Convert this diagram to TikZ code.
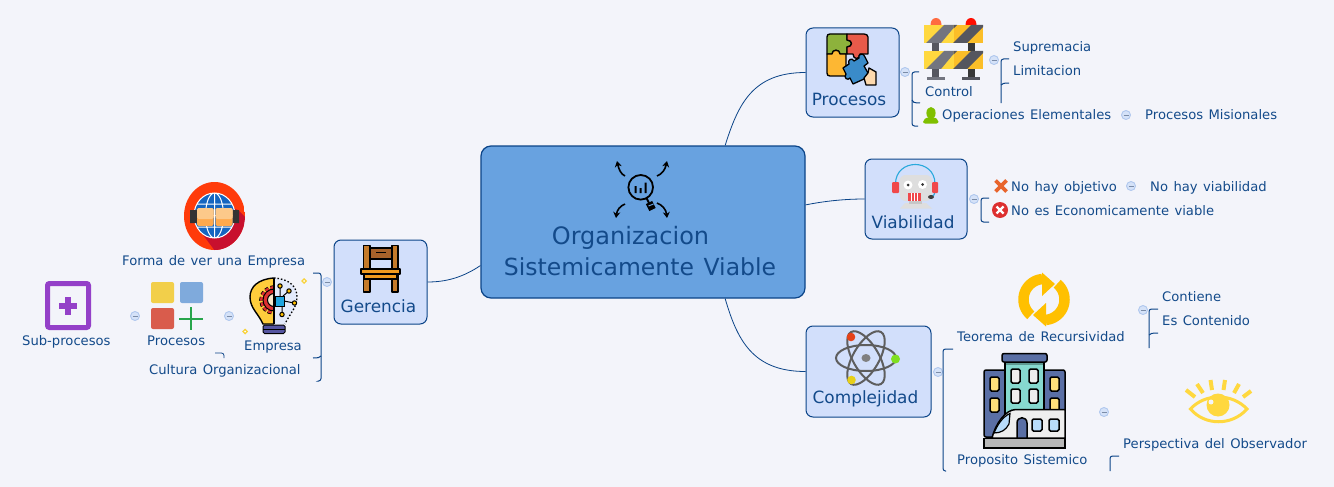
\documentclass[tikz,border=0pt]{standalone}
\usepackage{fontspec}
\setmainfont[WordSpace=1.3]{DejaVu Sans}
\usetikzlibrary{arrows.meta}
\definecolor{bg}{HTML}{F3F4FA}
\definecolor{txt}{HTML}{134A8A}
\definecolor{edge}{HTML}{0B4488}
\definecolor{centerfill}{HTML}{68A2E0}
\definecolor{topicfill}{HTML}{D2DFFB}
\definecolor{colfill}{HTML}{D5E2F8}
\definecolor{colline}{HTML}{B0C8EE}
\definecolor{ikred}{HTML}{DD3030}
\definecolor{ikyel}{HTML}{FFD83F}
\definecolor{ikamb}{HTML}{FFC000}
\definecolor{ikblue}{HTML}{5A6FA5}
\definecolor{skin}{HTML}{FCC98A}
\definecolor{skindark}{HTML}{FFA94D}
\definecolor{pzgreen}{HTML}{8DB23C}
\definecolor{pzred}{HTML}{E85A4A}
\definecolor{pzorange}{HTML}{FDB733}
\definecolor{pzblue}{HTML}{3A8BC9}
\definecolor{bamber}{HTML}{FBBE28}
\definecolor{bgrayA}{HTML}{73757F}
\definecolor{bgrayB}{HTML}{55565F}
\definecolor{muff}{HTML}{F0484A}
\definecolor{arcblue}{HTML}{29A9DC}
\definecolor{head}{HTML}{DEDEDE}
\definecolor{teal}{HTML}{86D9CF}
\definecolor{winy}{HTML}{FFE07A}
\definecolor{winb}{HTML}{B8DCFB}
\definecolor{winw}{HTML}{EEEEEE}
\definecolor{orbit}{HTML}{5E5E5E}
\definecolor{gred}{HTML}{FF3B0A}
\definecolor{gshadow}{HTML}{C8102E}
\definecolor{gblue}{HTML}{1565C0}
\definecolor{chpost}{HTML}{C47A2A}
\definecolor{chback}{HTML}{A8622A}
\definecolor{chseat}{HTML}{F09A1E}
\definecolor{sqy}{HTML}{F2CF4A}
\definecolor{sqb}{HTML}{7FAADC}
\definecolor{sqr}{HTML}{D95C4C}
\definecolor{sqg}{HTML}{27A54B}
\definecolor{purp}{HTML}{9440C8}
\definecolor{person}{HTML}{7FBF00}
\definecolor{xorange}{HTML}{E8642C}
\definecolor{bulby}{HTML}{FFCD3C}
\definecolor{bulbw}{HTML}{E3EAFB}
\definecolor{chip}{HTML}{1FA5DF}
\definecolor{cream}{HTML}{F7E8CC}
\definecolor{basep}{HTML}{5555A0}
\definecolor{spark}{HTML}{F8D23C}
\tikzset{
 lbl/.style={font=\fontsize{13.15}{15}\selectfont,text=txt,anchor=west,inner sep=0pt,text height=9.5pt,text depth=2.5pt},
 ttl/.style={font=\fontsize{16.9}{20}\selectfont,text=txt,anchor=center,inner sep=0pt},
 ctl/.style={text=txt,anchor=center,inner sep=0pt},
 topic/.style={draw=edge,line width=1pt,fill=topicfill,rounded corners=7pt,inner sep=0pt},
 central/.style={draw=edge,line width=1.2pt,fill=centerfill,rounded corners=10pt,inner sep=0pt},
 link/.style={draw=edge,line width=.8pt},
 br/.style={draw=edge,line width=1pt,rounded corners=2.5pt},
 col/.style={circle,draw=colline,fill=colfill,line width=.9pt,minimum size=9pt,inner sep=0pt,
   path picture={\draw[colline!70!black,line width=.7pt] ([xshift=-2.5pt]path picture bounding box.center)--([xshift=2.5pt]path picture bounding box.center);}},
 ol/.style={draw=black,line width=1.3pt,line join=round},
 win/.style={draw=black,line width=1.5pt,rounded corners=1.5pt},
}
\begin{document}
\begin{tikzpicture}[x=1pt,y=-1pt]
\useasboundingbox (0,0) rectangle (1334,487);
\fill[bg] (0,0) rectangle (1334,487);

% main nodes
\node[central,minimum width=324pt,minimum height=152pt] (center) at (643,222) {};
\node[topic,minimum width=93pt,minimum height=89pt] (procesos) at (852.5,72.5) {};
\node[topic,minimum width=102pt,minimum height=80pt] (viabilidad) at (916,199) {};
\node[topic,minimum width=125pt,minimum height=91pt] (complejidad) at (868.5,371.5) {};
\node[topic,minimum width=93pt,minimum height=84pt] (gerencia) at (380.5,282) {};

% connectors
\draw[link] (center.43.2) .. controls (738,105) and (752,72.5) .. (procesos.west);
\draw[link] (center.6) .. controls (825,201) and (845,199) .. (viabilidad.west);
\draw[link] (center.-43.4) .. controls (737,339) and (752,371.5) .. (complejidad.west);
\draw[link] (center.195.5) .. controls (462,278) and (445,282) .. (gerencia.east);

% titles
\node[ctl,font=\fontsize{24}{28}\selectfont] (c1) at (630.5,237.5) {Organizacion};
\node[ctl,font=\fontsize{23.5}{28}\selectfont] (c2) at (640,266.5) {Sistemicamente Viable};
\node[ttl] (t1) at (849,99) {Procesos};
\node[ttl] (t2) at (913,222) {Viabilidad};
\node[ttl] (t3) at (865.5,399) {Complejidad};
\node[ttl] (t4) at (378.5,306) {Gerencia};

% labels
\node[lbl] (l1) at (1013,48.5) {Supremacia};
\node[lbl] (l2) at (1013,72.5) {Limitacion};
\node[lbl] (l3) at (925,92.5) {Control};
\node[lbl] (l4) at (942,116.5) {Operaciones Elementales};
\node[lbl] (l5) at (1145,116.5) {Procesos Misionales};
\node[lbl] (l6) at (1011,187.5) {No hay objetivo};
\node[lbl] (l7) at (1150,187.5) {No hay viabilidad};
\node[lbl] (l8) at (1011,211.5) {No es Economicamente viable};
\node[lbl] (l9) at (1162,297.5) {Contiene};
\node[lbl] (l10) at (1162,321.5) {Es Contenido};
\node[lbl] (l11) at (957,337.5) {Teorema de Recursividad};
\node[lbl] (l12) at (957,460.5) {Proposito Sistemico};
\node[lbl] (l13) at (1123,444.5) {Perspectiva del Observador};
\node[lbl] (l14) at (122,261.5) {Forma de ver una Empresa};
\node[lbl] (l15) at (147,341.5) {Procesos};
\node[lbl] (l16) at (244,346.5) {Empresa};
\node[lbl] (l17) at (149,370.5) {Cultura Organizacional};
\node[lbl] (l18) at (22,341.5) {Sub-procesos};

% collapse markers
\node[col] (k1) at (905,72) {};
\node[col] (k2) at (994,60) {};
\node[col] (k3) at (1126,115) {};
\node[col] (k4) at (974,199) {};
\node[col] (k5) at (1131,186) {};
\node[col] (k6) at (938,372) {};
\node[col] (k7) at (1143,310) {};
\node[col] (k8) at (1104,412) {};
\node[col] (k9) at (327,282) {};
\node[col] (k10) at (229,316) {};
\node[col] (k11) at (135,316) {};

% brackets
\coordinate (b1a) at (919,72); \coordinate (b1b) at (920,103); \coordinate (b1c) at (918,126);
\draw[br] (b1a) -- (912,72) -- (912,126) -- (b1c);
\draw[br,rounded corners=0pt] (912,100) .. controls (912,102) and (914,103) .. (b1b);
\coordinate (b2a) at (1009,59); \coordinate (b2b) at (1009,83); \coordinate (b2c) at (1001,103);
\draw[br] (b2a) -- (1001,59) -- (b2c);
\draw[br,rounded corners=0pt] (1001,85) .. controls (1002,83.5) and (1004,83) .. (b2b);
\coordinate (b3a) at (989,198); \coordinate (b3b) at (989,222);
\draw[br] (b3a) -- (981,198) -- (981,222) -- (b3b);
\coordinate (b4a) at (953,349); \coordinate (b4b) at (946,471);
\draw[br] (b4a) -- (943,349) -- (943,471) -- (b4b);
\coordinate (b5a) at (1158,309); \coordinate (b5b) at (1158,333); \coordinate (b5c) at (1149,348);
\draw[br] (b5a) -- (1149,309) -- (b5c);
\draw[br,rounded corners=0pt] (1149,335) .. controls (1150,333.5) and (1152,333) .. (b5b);
\coordinate (b6a) at (1119,456); \coordinate (b6b) at (1110,471);
\draw[br] (b6a) -- (1110,456) -- (b6b);
\coordinate (b7a) at (313,273); \coordinate (b7b) at (313,358); \coordinate (b7c) at (319,381);
\draw[br] (b7a) -- (321,273) -- (321,381) -- (b7c);
\draw[br,rounded corners=0pt] (321,356) .. controls (320,357.5) and (318,358) .. (b7b);
\coordinate (b8a) at (215,353); \coordinate (b8b) at (224,358);
\draw[br,line width=.8pt] (b8a) -- (224,353) -- (b8b);

% ---- central icon
\draw[black,line width=1.8pt] (640.7,187.3) circle[radius=12.3];
\fill[black] (634.5,186) rectangle (636.5,193) (639.5,188) rectangle (641.5,193) (644.5,182.5) rectangle (646.5,193);
\draw[black,line width=2pt] (646.5,198) -- (649,203);
\draw[black,line width=7pt] (649,202.5) -- (652.5,209.5);
\draw[centerfill,line width=1pt] (648.5,206) -- (653.5,204);
\draw[centerfill,line width=1pt] (650.5,211.5) -- (656,209);
\draw[black,line width=1.6pt,-{Stealth[length=6pt,width=7pt]}] (625,176) .. controls (621,174) and (619,170) .. (617,161);
\draw[black,line width=1.6pt,-{Stealth[length=6pt,width=7pt]}] (657,176) .. controls (662,174) and (665,170) .. (667,161);
\draw[black,line width=1.6pt,-{Stealth[length=6pt,width=7pt]}] (625,204) .. controls (620,206) and (617,210) .. (616,218);
\draw[black,line width=1.6pt,-{Stealth[length=6pt,width=7pt]}] (657,203) .. controls (662,205) and (666,209) .. (667,218);

% ---- puzzle
\filldraw[ol,fill=pzgreen] (827,37) .. controls (827,35) and (828,34) .. (830,34) -- (847,34) -- (847,40) .. controls (853,40) and (853,47) .. (847,47) -- (847,54) -- (840,54) .. controls (840,49) and (832,49) .. (832,54) -- (827,54) -- cycle;
\filldraw[ol,fill=pzred] (847,34) -- (864,34) .. controls (866,34) and (868,35) .. (868,37) -- (868,54) -- (860,54) .. controls (860,60) and (853,60) .. (853,54) -- (847,54) -- (847,47) .. controls (853,47) and (853,40) .. (847,40) -- cycle;
\filldraw[ol,fill=pzorange] (827,54) -- (832,54) .. controls (832,49) and (840,49) .. (840,54) -- (846,54) -- (846,76) -- (830,76) .. controls (828,76) and (827,75) .. (827,73) -- cycle;
\filldraw[ol,fill=pzblue] (843,68) -- (849,64) .. controls (847,60) and (852,57) .. (854,61) -- (859,58) .. controls (857,54) and (864,52) .. (865,57) -- (868,63) -- (864,66) -- (868,73) -- (864,79) -- (853,84) -- (850,78) .. controls (848,81) and (843,78) .. (846,74) -- cycle;
\filldraw[ol,fill=skin!70!white] (864,78) -- (868,73) -- (869,68) -- (876,72) -- (876,85) -- (866,85) -- cycle;

% ---- barricade
\fill[bgrayB] (932,43) rectangle (939,78);
\fill[black!78] (968,43) rectangle (975,78);
\fill[bgrayA] (927,77) rectangle (945,80);
\fill[bgrayB] (962,77) rectangle (980,80);
\fill[red!55!orange!75!white] (930.5,25) .. controls (930.5,20.5) and (933,18) .. (936,18) .. controls (939,18) and (941.5,20.5) .. (941.5,25) -- cycle;
\fill[red!90!orange] (965.5,25) .. controls (965.5,20.5) and (968,18) .. (971,18) .. controls (974,18) and (976.5,20.5) .. (976.5,25) -- cycle;
\foreach \yy in {25,51}{
 \begin{scope}
  \clip (924,\yy) rectangle (983,\yy+18);
  \fill[ikyel] (924,\yy) rectangle (953.5,\yy+18);
  \fill[bamber] (953.5,\yy) rectangle (983,\yy+18);
  \fill[bgrayA] (926,\yy+18) -- (944,\yy) -- (953.5,\yy) -- (953.5,\yy+3) -- (941,\yy+18) -- cycle;
  \fill[bgrayB] (953.5,\yy) -- (957,\yy) -- (953.5,\yy+3.5) -- cycle;
  \fill[bgrayB] (953,\yy+18) -- (971,\yy) -- (984,\yy) -- (984,\yy+1) -- (967,\yy+18) -- cycle;
 \end{scope}
}

% ---- person
\fill[person] (931,113) ellipse[x radius=4.6,y radius=6];
\fill[person,rounded corners=2pt] (923,123.5) -- (923,120) -- (928,117) -- (934,117) -- (938.5,120) -- (938.5,123.5) -- cycle;

% ---- robot
\draw[arcblue,line width=1.1pt] (895.5,184) .. controls (895.5,158) and (935,158) .. (935,184);
\draw[arcblue,line width=1.1pt] (935,190) .. controls (935,195) and (933,197) .. (930,197);
\fill[head] (900,208.5) -- (905,203) -- (926,203) -- (932,208.5) -- cycle;
\fill[black!22] (909,200) rectangle (922,204);
\fill[head,rounded corners=6pt] (899.5,175) rectangle (932,201);
\fill[muff,rounded corners=1pt] (892,182) rectangle (899,193);
\fill[muff,rounded corners=1pt] (932,182) rectangle (938,193);
\fill[white] (908,185) circle[radius=4.5] (922.5,184.5) circle[radius=4.5];
\fill[black!80] (908,185) circle[radius=1.5] (922.5,184.5) circle[radius=1.5];
\fill[muff] (908,193) rectangle (921,201);
\foreach \xx in {911,914,917}{\fill[white] (\xx,193) rectangle (\xx+1,201);}
\fill[black!75] (931,197) ellipse[x radius=3,y radius=2];

% ---- x marks
\draw[xorange,line width=3.8pt] (995.5,180.5) -- (1006.5,191.5) (1006.5,180.5) -- (995.5,191.5);
\fill[ikred] (1000,210) circle[radius=8];
\draw[white,line width=2.4pt] (996.5,206.5) -- (1003.5,213.5) (1003.5,206.5) -- (996.5,213.5);

% ---- recycle
\draw[ikamb,line width=10.5pt] plot[domain=130:265,samples=30] ({1044+20.5*cos(\x)},{299.5+20.5*sin(\x)});
\fill[ikamb] (1042,272.5) -- (1055,284) -- (1042,296) -- cycle;
\draw[ikamb,line width=10.5pt] plot[domain=-50:85,samples=30] ({1044+20.5*cos(\x)},{299.5+20.5*sin(\x)});
\fill[ikamb] (1046,326.5) -- (1033,315) -- (1046,303) -- cycle;

% ---- atom
\foreach \aa in {0,60,120}{
 \draw[orbit,line width=2pt,rotate around={\aa:(866,358)}] (866,358) ellipse[x radius=30,y radius=13];}
\fill[black!50] (866,358) ellipse[x radius=4.5,y radius=4];
\fill[red!60!orange!80!gray] (851,337) circle[radius=4.3];
\fill[green!50!yellow!75!gray] (895.5,359) circle[radius=4.5];
\fill[yellow!85!orange!90!black] (851.5,380) circle[radius=4.3];

% ---- building
\filldraw[draw=black,line width=1.5pt,fill=ikblue,rounded corners=2pt] (984,437) -- (984,370) -- (1065,370) -- (1065,437) -- cycle;
\filldraw[draw=black,line width=1.5pt,fill=teal] (1005,362) rectangle (1044,420);
\fill[teal!70!black] (1005.8,362.7) rectangle (1043.2,365);
\filldraw[draw=black,line width=1.5pt,fill=ikblue,rounded corners=2pt] (1002,353.5) rectangle (1047,362);
\foreach \xx in {1011,1029}\foreach \yy in {369,389}{\filldraw[win,fill=winw] (\xx,\yy) rectangle (\xx+9,\yy+14);}
\foreach \xx in {990,1050}\foreach \yy in {377,398}{\filldraw[win,fill=winy] (\xx,\yy) rectangle (\xx+9,\yy+14);}
\filldraw[draw=black,line width=1.5pt,fill=winw] (992,438) .. controls (995,425) and (1005,409.5) .. (1016,409.5) -- (1065,409.5) -- (1065,438) -- cycle;
\filldraw[draw=black,line width=1.2pt,fill=winb] (994,433) .. controls (997,426) and (1002,417) .. (1010,413.5) -- (1009,424) .. controls (1006,430) and (1001,433) .. (994,433) -- cycle;
\filldraw[draw=black,line width=1.5pt,fill=ikblue] (1017,438) -- (1017,423) .. controls (1017,416) and (1027,416) .. (1027,423) -- (1027,438) -- cycle;
\filldraw[win,fill=winb] (1032,419) rectangle (1042,431);
\filldraw[win,fill=winb] (1049,419) rectangle (1059,431);
\filldraw[draw=black,line width=1.5pt,fill=black!28] (984,438.5) rectangle (1065,448);

% ---- eye
\filldraw[draw=ikyel,line width=3pt,fill=bg] (1190.5,409) .. controls (1205,393) and (1232,393) .. (1247,409) .. controls (1232,426) and (1205,426) .. (1190.5,409) -- cycle;
\fill[ikyel] (1218,405) circle[radius=11.5];
\fill[bg] (1211,402) circle[radius=2.5];
\draw[ikyel,line width=4pt] (1186,390) -- (1195,397) (1197,384) -- (1203,393) (1210.5,380) -- (1212,390) (1225,380) -- (1223.5,390) (1239,384) -- (1234,393) (1251,391) -- (1243,397);

% ---- globe
\begin{scope}
 \clip (214.5,216) ellipse[x radius=30.5,y radius=34];
 \fill[gred] (184,182) rectangle (245,250);
 \fill[gshadow] (198,228) -- (224,205) -- (238,210) -- (250,222) -- (250,255) -- (218,255) -- cycle;
\end{scope}
\fill[gblue] (214.5,215.5) ellipse[x radius=20.5,y radius=22.5];
\draw[white,line width=1pt] (214.5,215.5) ellipse[x radius=20.5,y radius=22.5] (214.5,215.5) ellipse[x radius=9,y radius=22.5] (214.5,193) -- (214.5,238) (194,215.5) -- (235,215.5) (197,204) -- (232,204) (197,227) -- (232,227);
\fill[black!80] (190,210) rectangle (197,223) (232.5,210) rectangle (239,223);
\fill[skindark,rounded corners=2pt] (197,208) rectangle (213.5,226);
\fill[skindark,rounded corners=2pt] (215.5,208) rectangle (232.5,226);
\fill[skin,rounded corners=1.5pt] (197,208) rectangle (213.5,219);
\fill[skin,rounded corners=1.5pt] (215.5,208) rectangle (232.5,219);

% ---- chair
\filldraw[ol,fill=chpost] (363.5,245.5) rectangle (370,292);
\filldraw[ol,fill=chpost] (392,245.5) rectangle (398,292);
\filldraw[ol,fill=chback] (370,248) rectangle (392,259);
\draw[black,line width=1pt] (376,252) -- (386,252);
\filldraw[ol,fill=chseat] (364,274) rectangle (397,279);
\filldraw[ol,fill=chseat] (361,269) rectangle (400,274);

% ---- bulb
\fill[bulby] (274,278) .. controls (258,279) and (250,287) .. (250,297) .. controls (250,308) and (258,313) .. (263,324) -- (274,324) -- cycle;
\draw[black,line width=1.4pt] (274,278) .. controls (258,279) and (250,287) .. (250,297) .. controls (250,308) and (258,313) .. (263,324) -- (274,324);
\fill[bulbw] (274,278) .. controls (290,279) and (297,287) .. (297,297) .. controls (297,308) and (290,313) .. (285,324) -- (274,324) -- cycle;
\draw[black,line width=1.3pt,dash pattern=on 1.5pt off 2pt] (274,278) .. controls (290,279) and (297,287) .. (297,297) .. controls (297,308) and (290,313) .. (285,324);
\begin{scope}
 \clip (255,284) rectangle (274,316);
 \draw[black,line width=4.6pt,dash pattern=on 3.5pt off 2pt] (274,300) circle[radius=12.5];
 \draw[ikred,line width=3pt,dash pattern=on 3.5pt off 2pt] (274,300) circle[radius=12.5];
 \filldraw[draw=black,line width=1pt,fill=ikred] (274,300) circle[radius=11];
 \filldraw[draw=black,line width=1pt,fill=cream] (274,300) circle[radius=6.5];
\end{scope}
\draw[black,line width=1.5pt] (274,278) -- (274,324);
\draw[black,line width=1pt] (280,296) -- (280,287) (283,296) -- (289,291) (284,301) -- (294,303) (282,306) -- (282,314);
\filldraw[draw=black,line width=1pt,fill=chip] (275,296) rectangle (284,306);
\foreach \px/\py in {280/286,289/291,294.5/303,282/314.5}{\filldraw[draw=black,line width=1pt,fill=ikamb] (\px,\py) circle[radius=2.2];}
\filldraw[draw=black,line width=1pt,fill=basep,rounded corners=1.5pt] (263,325) rectangle (285,333.5);
\draw[black,line width=.9pt] (263,329.2) -- (285,329.2);
\fill[spark] (304,278) -- (307,281) -- (304,284) -- (301,281) -- cycle;
\fill[white] (304,280) -- (305,281) -- (304,282) -- (303,281) -- cycle;
\fill[spark] (245,328.5) -- (248,331.5) -- (245,334.5) -- (242,331.5) -- cycle;
\fill[white] (245,330.5) -- (246,331.5) -- (245,332.5) -- (244,331.5) -- cycle;

% ---- squares
\fill[sqy,rounded corners=2pt] (151,282) rectangle (174,303);
\fill[sqb,rounded corners=2pt] (180,282) rectangle (203,303);
\fill[sqr,rounded corners=2pt] (151,308) rectangle (174,329);
\draw[sqg,line width=2.4pt] (179,319) -- (203,319) (191,307) -- (191,330);

% ---- sub-procesos
\draw[purp,line width=5pt,rounded corners=2pt] (47.5,283.5) rectangle (88.5,327.5);
\draw[purp,line width=6pt] (59,306) -- (77,306) (68,297) -- (68,315);
\end{tikzpicture}
\end{document}
